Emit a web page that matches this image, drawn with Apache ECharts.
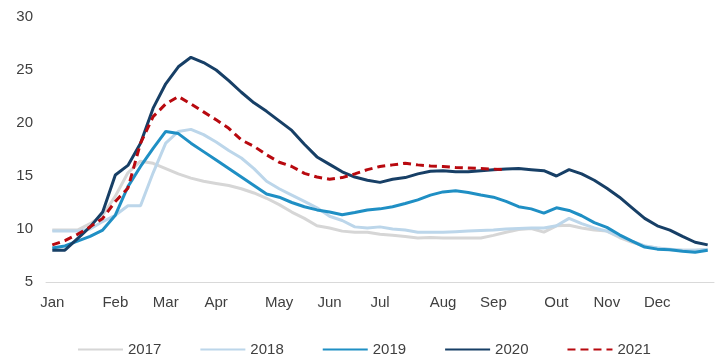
<!DOCTYPE html>
<html>
<head>
<meta charset="utf-8">
<script src="https://cdn.jsdelivr.net/npm/echarts@6/dist/echarts.min.js"></script>
<style>
  html, body { margin: 0; padding: 0; background: #fff; }
  #main { width: 715px; height: 360px; }
</style>
</head>
<body>
<div id="main"></div>
<script>
// weekly data, 53 weeks; month name shown on the first week of each month
var monthLabels = ['Jan', 'Feb', 'Mar', 'Apr', 'May', 'Jun', 'Jul', 'Aug', 'Sep', 'Out', 'Nov', 'Dec'];
var monthWeeks = [0, 5, 9, 13, 18, 22, 26, 31, 35, 40, 44, 48];

var y2017 = [9.9, 9.9, 9.9, 10.5, 11.3, 13.1, 15.3, 16.4, 16.2, 15.7, 15.2, 14.8, 14.5, 14.3, 14.1, 13.8, 13.4, 12.9, 12.3, 11.6,
  11.0, 10.3, 10.1, 9.8, 9.7, 9.7, 9.5, 9.4, 9.3, 9.15, 9.2, 9.15, 9.15, 9.15, 9.15, 9.4, 9.7, 9.95, 10.05, 9.7,
  10.3, 10.35, 10.1, 9.9, 9.8, 9.2, 8.75, 8.4, 8.2, 8.05, 8.0, 8.0, 8.05];
var y2018 = [9.8, 9.8, 9.8, 10.0, 10.7, 11.3, 12.2, 12.2, 15.3, 18.1, 19.2, 19.4, 18.9, 18.2, 17.4, 16.7, 15.7, 14.5, 13.8, 13.2,
  12.6, 12.0, 11.2, 10.8, 10.2, 10.1, 10.2, 10.0, 9.9, 9.7, 9.7, 9.7, 9.75, 9.8, 9.85, 9.9, 10.0, 10.05, 10.1, 10.1,
  10.3, 11.0, 10.5, 10.1, 9.8, 9.3, 8.85, 8.4, 8.2, 8.1, 8.0, 8.0, 8.1];
var y2019 = [8.2, 8.4, 8.85, 9.3, 9.9, 11.3, 14.0, 15.9, 17.6, 19.2, 19.0, 18.1, 17.3, 16.5, 15.7, 14.9, 14.1, 13.3, 13.0, 12.5,
  12.1, 11.8, 11.6, 11.35, 11.55, 11.8, 11.9, 12.1, 12.4, 12.75, 13.2, 13.5, 13.6, 13.45, 13.2, 13.0, 12.6, 12.1, 11.9, 11.5,
  12.0, 11.75, 11.25, 10.6, 10.15, 9.45, 8.85, 8.3, 8.1, 8.05, 7.9, 7.8, 8.0];
var y2020 = [8.0, 8.0, 9.1, 10.2, 11.6, 15.1, 16.0, 18.1, 21.4, 23.7, 25.3, 26.2, 25.7, 25.0, 24.0, 22.9, 21.9, 21.1, 20.2, 19.3,
  18.0, 16.8, 16.1, 15.4, 14.9, 14.6, 14.4, 14.7, 14.85, 15.2, 15.45, 15.5, 15.4, 15.4, 15.5, 15.6, 15.65, 15.7, 15.6, 15.5,
  15.0, 15.6, 15.2, 14.6, 13.85, 13.0, 12.0, 11.0, 10.3, 9.9, 9.3, 8.75, 8.5];
var y2021 = [8.5, 8.9, 9.5, 10.2, 11.0, 12.6, 13.85, 18.1, 20.6, 21.8, 22.5, 21.8, 21.05, 20.3, 19.5, 18.4, 17.8, 17.0, 16.3, 15.9,
  15.25, 14.9, 14.7, 14.85, 15.2, 15.6, 15.9, 16.05, 16.2, 16.05, 15.95, 15.9, 15.8, 15.75, 15.7, 15.65, 15.6];

var weeks = [];
for (var i = 0; i < 53; i++) weeks.push('');
monthWeeks.forEach(function (w, k) { weeks[w] = monthLabels[k]; });

var font = '"Liberation Sans", Arial, sans-serif';

function line(name, data, color, dashed) {
  return {
    name: name,
    type: 'line',
    data: data,
    symbol: 'none',
    lineStyle: { color: color, width: 3, type: dashed ? [8, 5] : 'solid' },
    itemStyle: { color: color },
    emphasis: { disabled: true }
  };
}

var myChart = echarts.init(document.getElementById('main'));
var option = {
  animation: false,
  grid: { left: 46, right: 1, top: 17, bottom: 78 },
  legend: {
    left: 72,
    top: 337,
    itemWidth: 45,
    itemHeight: 12,
    itemGap: 38,
    itemStyle: { opacity: 0 },
    textStyle: { fontFamily: font, fontSize: 15, color: '#404040' },
    data: ['2017', '2018', '2019', '2020', '2021']
  },
  xAxis: {
    type: 'category',
    data: weeks,
    boundaryGap: true,
    axisLine: { lineStyle: { color: '#d9d9d9', width: 1 } },
    axisTick: { inside: true, length: 5, interval: 3, lineStyle: { color: '#d9d9d9' } },
    axisLabel: { interval: 0, margin: 13, fontFamily: font, fontSize: 15, color: '#404040' }
  },
  yAxis: {
    type: 'value',
    min: 5,
    max: 30,
    interval: 5,
    splitLine: { show: false },
    axisLine: { show: false },
    axisTick: { show: false },
    axisLabel: { margin: 13, fontFamily: font, fontSize: 15, color: '#404040' }
  },
  series: [
    line('2017', y2017, '#d6d6d6'),
    line('2018', y2018, '#bcd6ea'),
    line('2019', y2019, '#1f8fc4'),
    line('2020', y2020, '#173f66'),
    line('2021', y2021, '#b8090f', true)
  ]
};
myChart.setOption(option);
</script>
</body>
</html>
